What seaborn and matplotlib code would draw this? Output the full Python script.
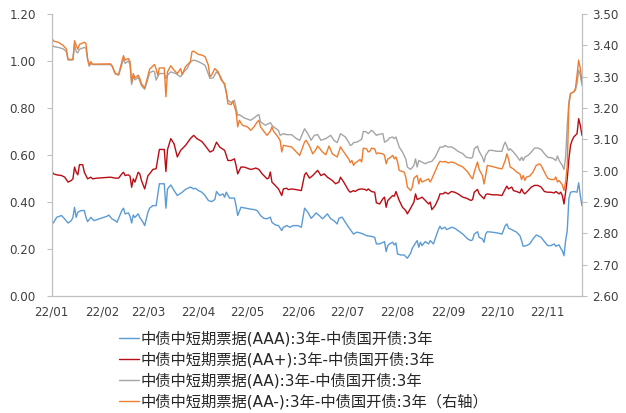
#Spread of 3Y short-term notes over 3Y CDB bonds, by rating (AA- on right axis)

import pandas as pd
import matplotlib.pyplot as plt
import matplotlib.dates as mdates
import seaborn as sns

# days are counted from 2022-01-01
aaa_day = [0, 1, 3, 6, 8, 10, 12, 13, 14, 15, 16, 18, 20, 21, 22, 24, 26, 28, 34, 35, 37, 39, 40, 43, 44, 45, 47, 48, 49, 50,
           51, 53, 54, 56, 57, 59, 60, 62, 64, 66, 69, 70, 71, 73, 75, 77, 80, 82, 85, 87, 88, 90, 92, 94, 96, 98, 100, 101, 103, 105,
           106, 107, 109, 112, 113, 114, 116, 119, 122, 124, 126, 128, 130, 132, 134, 135, 137, 139, 141, 142, 144, 146, 148, 151, 153, 155, 157, 159, 161, 162,
           164, 166, 169, 171, 173, 175, 176, 178, 180, 182, 184, 185, 187, 189, 191, 193, 196, 198, 199, 201, 203, 204, 205, 206, 207, 209, 210, 211, 212, 214,
           216, 218, 220, 221, 223, 224, 225, 226, 227, 229, 231, 232, 234, 235, 237, 238, 239, 241, 242, 244, 245, 247, 249, 252, 255, 257, 258, 259, 261, 262,
           264, 265, 266, 267, 270, 273, 276, 278, 279, 280, 282, 283, 285, 287, 288, 289, 291, 293, 295, 297, 298, 300, 302, 304, 306, 308, 309, 311, 312, 313,
           314, 315, 316, 317, 318, 320, 322, 323, 324, 325]
aaa_val = [0.325, 0.311, 0.335, 0.343, 0.328, 0.311, 0.321, 0.335, 0.378, 0.335, 0.357, 0.364, 0.364, 0.335, 0.317, 0.335, 0.321, 0.326, 0.340, 0.345,
           0.328, 0.321, 0.314, 0.364, 0.374, 0.350, 0.354, 0.340, 0.311, 0.345, 0.335, 0.350, 0.335, 0.314, 0.300, 0.357, 0.374, 0.385, 0.385, 0.478,
           0.478, 0.374, 0.456, 0.473, 0.449, 0.428, 0.442, 0.454, 0.464, 0.456, 0.459, 0.449, 0.442, 0.428, 0.407, 0.402, 0.411, 0.445, 0.428, 0.435,
           0.421, 0.442, 0.417, 0.417, 0.385, 0.343, 0.378, 0.374, 0.370, 0.368, 0.364, 0.343, 0.331, 0.329, 0.336, 0.314, 0.303, 0.300, 0.279, 0.293,
           0.300, 0.293, 0.300, 0.300, 0.293, 0.374, 0.357, 0.331, 0.345, 0.354, 0.343, 0.329, 0.350, 0.329, 0.321, 0.307, 0.331, 0.336, 0.314, 0.293,
           0.274, 0.264, 0.272, 0.269, 0.264, 0.257, 0.254, 0.250, 0.222, 0.222, 0.229, 0.232, 0.189, 0.215, 0.222, 0.229, 0.218, 0.226, 0.179, 0.175,
           0.175, 0.161, 0.183, 0.203, 0.226, 0.236, 0.208, 0.229, 0.215, 0.232, 0.222, 0.236, 0.222, 0.243, 0.283, 0.297, 0.286, 0.293, 0.283, 0.289,
           0.293, 0.289, 0.279, 0.264, 0.243, 0.236, 0.240, 0.264, 0.274, 0.250, 0.243, 0.229, 0.264, 0.274, 0.272, 0.269, 0.264, 0.300, 0.307, 0.289,
           0.283, 0.279, 0.272, 0.257, 0.236, 0.212, 0.215, 0.222, 0.243, 0.260, 0.257, 0.250, 0.232, 0.215, 0.215, 0.222, 0.212, 0.218, 0.203, 0.193,
           0.172, 0.236, 0.279, 0.414, 0.442, 0.445, 0.442, 0.482, 0.428, 0.385]

aap_day = [0, 1, 3, 6, 8, 10, 12, 13, 14, 15, 16, 17, 19, 20, 21, 22, 24, 25, 28, 36, 39, 41, 43, 44, 45, 47, 48, 49, 50, 51,
           53, 54, 55, 57, 59, 60, 62, 64, 66, 69, 70, 71, 73, 75, 77, 79, 82, 85, 86, 87, 89, 92, 94, 97, 99, 101, 103, 106, 108, 110,
           112, 113, 114, 116, 118, 122, 124, 125, 127, 129, 132, 133, 134, 135, 137, 139, 141, 142, 144, 145, 147, 150, 153, 155, 156, 158, 160, 163, 165, 167,
           169, 172, 174, 176, 177, 179, 182, 183, 185, 186, 188, 190, 192, 193, 194, 196, 198, 199, 201, 203, 204, 205, 206, 207, 209, 210, 211, 213, 215, 217,
           218, 220, 222, 223, 224, 226, 227, 229, 231, 232, 233, 235, 237, 238, 240, 241, 243, 245, 247, 249, 252, 254, 257, 258, 259, 261, 262, 264, 265, 266,
           267, 270, 273, 276, 278, 279, 280, 282, 283, 285, 287, 288, 289, 290, 292, 294, 296, 298, 300, 302, 304, 306, 308, 309, 311, 312, 313, 314, 315, 316,
           317, 318, 319, 320, 322, 323, 324, 325]
aap_val = [0.535, 0.520, 0.516, 0.513, 0.506, 0.485, 0.492, 0.499, 0.549, 0.527, 0.516, 0.559, 0.559, 0.527, 0.513, 0.499, 0.506, 0.499, 0.502, 0.506,
           0.502, 0.502, 0.520, 0.527, 0.513, 0.516, 0.510, 0.463, 0.499, 0.485, 0.527, 0.520, 0.492, 0.456, 0.513, 0.520, 0.539, 0.542, 0.624, 0.624,
           0.530, 0.624, 0.670, 0.648, 0.592, 0.620, 0.641, 0.670, 0.677, 0.684, 0.670, 0.658, 0.641, 0.613, 0.620, 0.655, 0.634, 0.620, 0.577, 0.577,
           0.584, 0.556, 0.520, 0.549, 0.549, 0.539, 0.542, 0.545, 0.539, 0.520, 0.499, 0.502, 0.528, 0.485, 0.471, 0.456, 0.428, 0.456, 0.459, 0.453,
           0.456, 0.453, 0.449, 0.516, 0.525, 0.502, 0.513, 0.535, 0.513, 0.520, 0.506, 0.492, 0.478, 0.485, 0.506, 0.485, 0.449, 0.442, 0.449, 0.445,
           0.454, 0.456, 0.454, 0.449, 0.456, 0.445, 0.442, 0.397, 0.392, 0.414, 0.421, 0.378, 0.407, 0.414, 0.428, 0.425, 0.445, 0.407, 0.378, 0.364,
           0.350, 0.374, 0.400, 0.435, 0.411, 0.417, 0.421, 0.407, 0.392, 0.400, 0.368, 0.385, 0.414, 0.435, 0.435, 0.442, 0.435, 0.445, 0.442, 0.435,
           0.421, 0.417, 0.407, 0.411, 0.442, 0.454, 0.435, 0.421, 0.414, 0.431, 0.435, 0.431, 0.431, 0.428, 0.456, 0.468, 0.456, 0.464, 0.449, 0.445,
           0.439, 0.456, 0.442, 0.435, 0.449, 0.464, 0.471, 0.471, 0.464, 0.445, 0.442, 0.442, 0.439, 0.445, 0.435, 0.442, 0.428, 0.392, 0.442, 0.499,
           0.584, 0.641, 0.663, 0.677, 0.691, 0.755, 0.727, 0.684]

aa_day = [0, 1, 4, 7, 9, 10, 13, 14, 15, 16, 17, 20, 21, 22, 23, 24, 25, 36, 37, 39, 41, 43, 44, 45, 47, 48, 49, 50, 51, 53,
          54, 55, 57, 59, 60, 62, 63, 64, 66, 69, 70, 71, 73, 76, 79, 81, 83, 85, 87, 89, 91, 94, 97, 99, 101, 103, 106, 108, 110, 112,
          114, 115, 118, 122, 124, 126, 127, 128, 131, 133, 134, 135, 136, 139, 140, 142, 144, 147, 150, 152, 155, 157, 159, 161, 163, 165, 168, 171, 173, 175,
          177, 180, 182, 183, 184, 185, 187, 189, 190, 191, 193, 194, 196, 197, 199, 200, 203, 204, 206, 207, 209, 210, 211, 213, 215, 217, 218, 220, 222, 223,
          224, 225, 227, 229, 231, 233, 235, 237, 238, 240, 241, 243, 245, 247, 249, 252, 254, 257, 258, 259, 261, 262, 264, 265, 266, 268, 270, 273, 276, 277,
          278, 280, 281, 283, 285, 287, 288, 289, 290, 292, 294, 296, 298, 300, 302, 304, 307, 309, 310, 311, 313, 314, 315, 316, 317, 318, 320, 321, 322, 323,
          324, 325]
aa_val = [1.075, 1.062, 1.058, 1.052, 1.040, 1.005, 1.005, 1.070, 1.040, 1.035, 1.050, 1.058, 1.055, 1.005, 0.978, 0.990, 0.985, 0.985, 0.978, 0.945,
          0.940, 0.985, 1.010, 0.990, 1.000, 0.985, 0.900, 0.935, 0.920, 0.930, 0.915, 0.895, 0.880, 0.925, 0.950, 0.957, 0.955, 0.919, 0.947, 0.947,
          0.926, 0.940, 0.954, 0.947, 0.933, 0.954, 0.968, 0.997, 1.004, 1.000, 0.994, 0.982, 0.926, 0.929, 0.954, 0.940, 0.897, 0.833, 0.823, 0.833,
          0.769, 0.772, 0.758, 0.748, 0.758, 0.769, 0.772, 0.741, 0.727, 0.734, 0.738, 0.727, 0.720, 0.705, 0.684, 0.691, 0.687, 0.687, 0.670, 0.663,
          0.712, 0.691, 0.663, 0.684, 0.687, 0.663, 0.670, 0.684, 0.663, 0.653, 0.691, 0.677, 0.655, 0.641, 0.644, 0.653, 0.655, 0.663, 0.667, 0.701,
          0.698, 0.691, 0.705, 0.701, 0.684, 0.687, 0.691, 0.655, 0.663, 0.673, 0.677, 0.670, 0.677, 0.634, 0.613, 0.584, 0.549, 0.539, 0.556, 0.584,
          0.549, 0.577, 0.570, 0.563, 0.570, 0.573, 0.591, 0.620, 0.634, 0.634, 0.641, 0.634, 0.635, 0.627, 0.616, 0.606, 0.591, 0.587, 0.591, 0.627,
          0.638, 0.616, 0.591, 0.570, 0.599, 0.620, 0.620, 0.616, 0.616, 0.641, 0.655, 0.620, 0.627, 0.613, 0.596, 0.577, 0.591, 0.577, 0.591, 0.599,
          0.613, 0.630, 0.630, 0.624, 0.606, 0.591, 0.587, 0.577, 0.596, 0.577, 0.556, 0.539, 0.591, 0.727, 0.826, 0.862, 0.869, 0.876, 0.904, 0.961,
          0.940, 0.897]

aam_day = [0, 1, 4, 7, 9, 10, 13, 14, 15, 16, 17, 20, 21, 22, 23, 24, 25, 36, 37, 39, 41, 43, 44, 45, 47, 48, 49, 50, 51, 53,
           54, 55, 57, 59, 60, 63, 64, 65, 66, 69, 70, 71, 73, 75, 77, 79, 80, 82, 85, 86, 87, 88, 90, 92, 94, 96, 97, 98, 100, 102,
           104, 106, 107, 108, 110, 111, 113, 114, 115, 117, 120, 122, 124, 126, 127, 128, 130, 132, 134, 135, 136, 138, 140, 141, 142, 144, 147, 149, 152, 155,
           156, 158, 160, 162, 163, 166, 168, 170, 172, 175, 177, 179, 182, 183, 184, 185, 186, 187, 189, 190, 191, 193, 194, 195, 196, 198, 199, 200, 203, 204,
           205, 206, 207, 209, 210, 211, 212, 213, 216, 217, 218, 220, 221, 222, 224, 225, 226, 227, 229, 231, 232, 233, 235, 237, 238, 240, 241, 243, 245, 247,
           249, 252, 255, 257, 258, 259, 261, 262, 264, 265, 266, 267, 269, 271, 274, 276, 278, 279, 280, 281, 283, 285, 287, 288, 289, 290, 291, 293, 295, 297,
           299, 300, 302, 304, 306, 308, 309, 310, 311, 313, 314, 315, 316, 317, 318, 320, 321, 322, 323, 324, 325]
aam_val = [3.427, 3.414, 3.410, 3.400, 3.388, 3.355, 3.355, 3.415, 3.400, 3.388, 3.403, 3.410, 3.406, 3.358, 3.337, 3.348, 3.340, 3.341, 3.335, 3.310,
           3.307, 3.348, 3.367, 3.353, 3.358, 3.348, 3.282, 3.310, 3.296, 3.305, 3.294, 3.278, 3.264, 3.303, 3.324, 3.339, 3.325, 3.305, 3.328, 3.328,
           3.236, 3.316, 3.335, 3.321, 3.310, 3.326, 3.307, 3.332, 3.348, 3.380, 3.382, 3.378, 3.371, 3.369, 3.364, 3.337, 3.300, 3.305, 3.326, 3.316,
           3.289, 3.278, 3.252, 3.214, 3.211, 3.222, 3.188, 3.140, 3.161, 3.145, 3.140, 3.129, 3.140, 3.156, 3.161, 3.140, 3.126, 3.113, 3.126, 3.140,
           3.126, 3.113, 3.097, 3.060, 3.081, 3.079, 3.076, 3.065, 3.049, 3.092, 3.097, 3.079, 3.054, 3.068, 3.079, 3.060, 3.051, 3.079, 3.054, 3.044,
           3.076, 3.060, 3.038, 3.026, 3.033, 3.017, 3.025, 3.028, 3.036, 3.028, 3.072, 3.070, 3.060, 3.062, 3.072, 3.070, 3.054, 3.057, 3.054, 3.049,
           3.022, 3.038, 3.040, 3.049, 3.038, 3.044, 3.028, 3.001, 2.996, 2.980, 2.948, 2.937, 2.948, 2.976, 2.985, 2.958, 2.976, 2.964, 2.969, 2.974,
           2.964, 2.974, 2.998, 3.022, 3.030, 3.028, 3.030, 3.025, 3.028, 3.025, 3.019, 3.012, 2.996, 2.980, 2.974, 2.996, 3.028, 3.004, 2.985, 2.958,
           2.985, 3.017, 3.015, 3.012, 3.008, 3.006, 3.033, 3.054, 3.038, 3.012, 3.006, 2.996, 2.990, 2.972, 2.985, 2.969, 2.980, 2.983, 2.996, 3.017,
           3.022, 3.017, 2.996, 2.976, 2.972, 2.972, 2.980, 2.964, 2.969, 2.955, 2.937, 2.964, 3.017, 3.209, 3.246, 3.252, 3.262, 3.305, 3.353, 3.326,
           3.284]

labels = ["中债中短期票据(AAA):3年-中债国开债:3年",
          "中债中短期票据(AA+):3年-中债国开债:3年",
          "中债中短期票据(AA):3年-中债国开债:3年",
          "中债中短期票据(AA-):3年-中债国开债:3年（右轴）"]
colors = ["#5B9BD5", "#B80D14", "#A5A5A5", "#ED7D31"]
left_ticks = [0.0, 0.2, 0.4, 0.6, 0.8, 1.0, 1.2]
right_ticks = [2.6, 2.7, 2.8, 2.9, 3.0, 3.1, 3.2, 3.3, 3.4, 3.5]

start = pd.Timestamp("2022-01-01")


def make_df(days, vals):
    return pd.DataFrame({"date": start + pd.to_timedelta(days, unit="D"), "spread": vals})


sns.set_style("white")
plt.rcParams['font.family'] = ['DejaVu Sans', 'Noto Sans CJK SC']

fig = plt.figure(figsize=(6.26, 4.13), dpi=100)
ax = fig.add_axes([0.0826, 0.283, 0.847, 0.683])
ax2 = ax.twinx()

sns.lineplot(data=make_df(aaa_day, aaa_val), x="date", y="spread", ax=ax, color=colors[0], lw=1.0, label=labels[0])
sns.lineplot(data=make_df(aap_day, aap_val), x="date", y="spread", ax=ax, color=colors[1], lw=1.0, label=labels[1])
sns.lineplot(data=make_df(aa_day, aa_val), x="date", y="spread", ax=ax, color=colors[2], lw=1.0, label=labels[2])
sns.lineplot(data=make_df(aam_day, aam_val), x="date", y="spread", ax=ax2, color=colors[3], lw=1.0, label=labels[3])

ax.set_ylim(0, 1.2)
ax2.set_ylim(2.6, 3.5)
ax.set_yticks(left_ticks)
ax.set_yticklabels([f"{t:.2f}" for t in left_ticks])
ax2.set_yticks(right_ticks)
ax2.set_yticklabels([f"{t:.2f}" for t in right_ticks])
ax.set_xlim(start, start + pd.Timedelta(days=325))
ax.xaxis.set_major_locator(mdates.MonthLocator())
ax.xaxis.set_major_formatter(mdates.DateFormatter('%y/%m'))

for a in (ax, ax2):
    a.set_xlabel("")
    a.set_ylabel("")
    a.grid(False)
    for side in a.spines:
        a.spines[side].set_color("#BFBFBF")
    a.spines["top"].set_visible(False)
ax.tick_params(axis="y", direction="out", length=3.5, width=0.8, color="#BFBFBF", pad=8, labelsize=8.6, labelcolor="#404040")
ax.tick_params(axis="x", direction="out", length=3.5, width=0.8, color="#BFBFBF", pad=3, labelsize=8.6, labelcolor="#404040")
ax2.tick_params(axis="y", direction="out", length=3.5, width=0.8, color="#BFBFBF", pad=4, labelsize=8.6, labelcolor="#404040")

h1, l1 = ax.get_legend_handles_labels()
h2, l2 = ax2.get_legend_handles_labels()
ax.get_legend().remove()
ax2.get_legend().remove()
fig.legend(h1 + h2, l1 + l2, loc="upper left", bbox_to_anchor=(0.19, 0.198), frameon=False,
           fontsize=11, handlelength=1.3, handletextpad=0.1, labelspacing=0.35,
           borderpad=0, borderaxespad=0, labelcolor="#262626")

fig.savefig("out.png", dpi=100)
